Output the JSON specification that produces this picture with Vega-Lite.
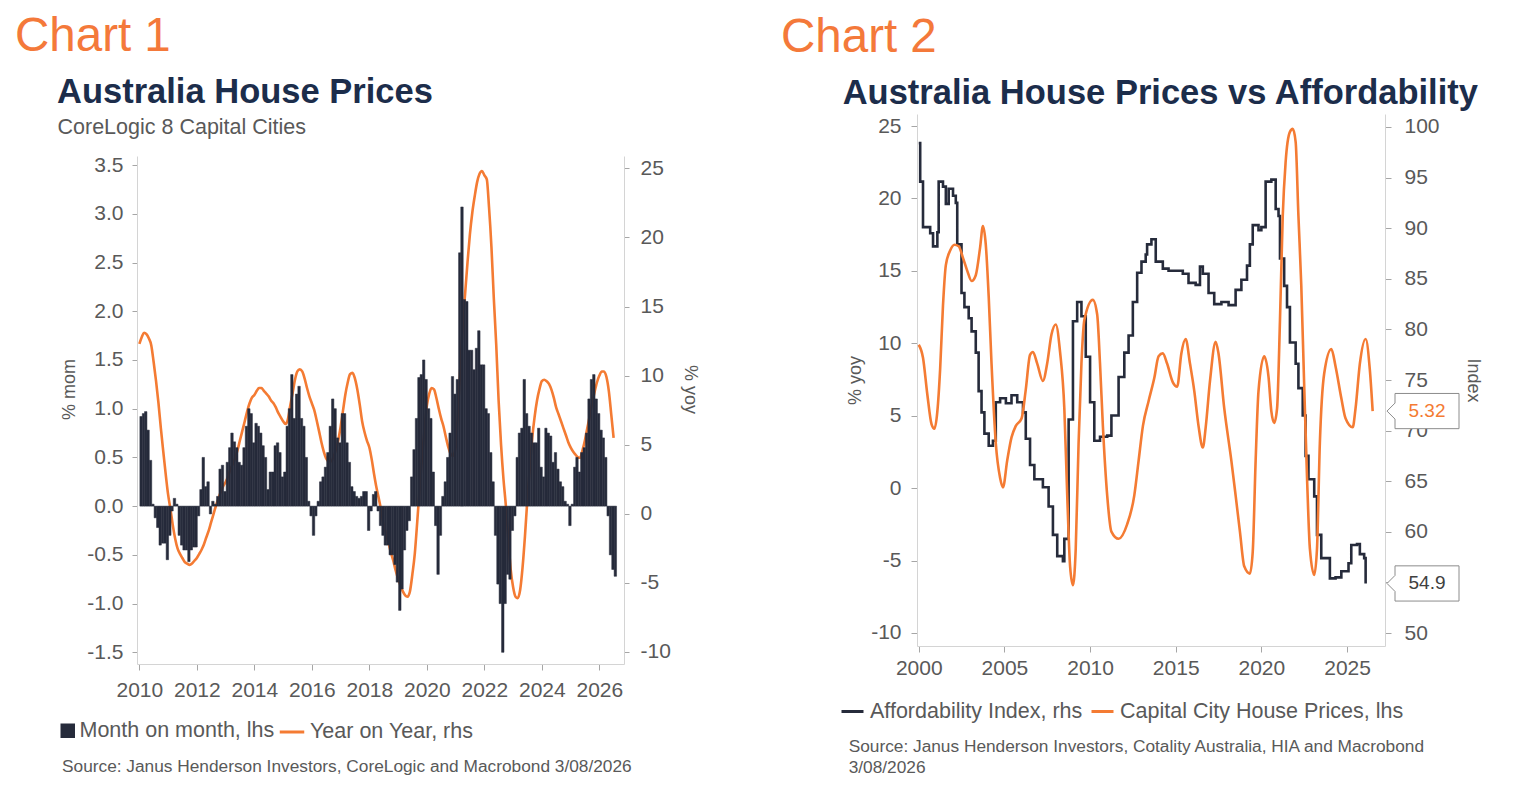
{
  "$schema": "https://vega.github.io/schema/vega-lite/v6.json",
  "padding": {"left": 15, "top": 13, "right": 5, "bottom": 5},
  "background": "white",
  "config": {
    "font": "Liberation Sans",
    "view": {"stroke": null},
    "axis": {"grid": false, "domainColor": "#D4D4D4", "tickColor": "#A6A6A6", "labelColor": "#595959", "titleColor": "#595959", "labelFontSize": 21, "titleFontSize": 18, "titleFontWeight": "normal", "labelExpr": "replace(datum.label, '\u2212', '-')"},
    "legend": {"labelFontSize": 21.5, "labelColor": "#595959", "padding": 0, "labelLimit": 500}
  },
  "datasets": {
    "hp": [
      {"d":"2010-01","m":0.92,"y":12.3},{"d":"2010-02","m":0.95,"y":12.8},{"d":"2010-03","m":0.97,"y":13.1},{"d":"2010-04","m":0.78,"y":13.0},{"d":"2010-05","m":0.47,"y":12.7},{"d":"2010-06","m":0.02,"y":12.2},{"d":"2010-07","m":-0.12,"y":11.0},{"d":"2010-08","m":-0.22,"y":9.6},{"d":"2010-09","m":-0.40,"y":8.0},{"d":"2010-10","m":-0.38,"y":6.2},{"d":"2010-11","m":-0.38,"y":4.5},{"d":"2010-12","m":-0.55,"y":2.9},
      {"d":"2011-01","m":-0.30,"y":1.4},{"d":"2011-02","m":-0.05,"y":0.3},{"d":"2011-03","m":0.08,"y":-0.8},{"d":"2011-04","m":0.02,"y":-1.8},{"d":"2011-05","m":-0.30,"y":-2.5},{"d":"2011-06","m":-0.40,"y":-2.9},{"d":"2011-07","m":-0.45,"y":-3.2},{"d":"2011-08","m":-0.45,"y":-3.5},{"d":"2011-09","m":-0.57,"y":-3.6},{"d":"2011-10","m":-0.45,"y":-3.7},{"d":"2011-11","m":-0.42,"y":-3.6},{"d":"2011-12","m":-0.42,"y":-3.4},
      {"d":"2012-01","m":-0.10,"y":-3.2},{"d":"2012-02","m":0.17,"y":-2.9},{"d":"2012-03","m":0.50,"y":-2.6},{"d":"2012-04","m":0.20,"y":-2.2},{"d":"2012-05","m":0.25,"y":-1.7},{"d":"2012-06","m":-0.08,"y":-1.2},{"d":"2012-07","m":0.05,"y":-0.6},{"d":"2012-08","m":0.02,"y":0.0},{"d":"2012-09","m":0.10,"y":0.6},{"d":"2012-10","m":0.38,"y":1.1},{"d":"2012-11","m":0.42,"y":1.6},{"d":"2012-12","m":0.15,"y":2.0},
      {"d":"2013-01","m":0.45,"y":2.3},{"d":"2013-02","m":0.60,"y":2.7},{"d":"2013-03","m":0.75,"y":3.2},{"d":"2013-04","m":0.66,"y":3.6},{"d":"2013-05","m":0.60,"y":4.0},{"d":"2013-06","m":0.45,"y":4.6},{"d":"2013-07","m":0.42,"y":5.3},{"d":"2013-08","m":0.60,"y":6.0},{"d":"2013-09","m":0.82,"y":6.7},{"d":"2013-10","m":1.00,"y":7.4},{"d":"2013-11","m":0.95,"y":8.0},{"d":"2013-12","m":0.65,"y":8.4},
      {"d":"2014-01","m":0.85,"y":8.6},{"d":"2014-02","m":0.82,"y":8.9},{"d":"2014-03","m":0.75,"y":9.1},{"d":"2014-04","m":0.62,"y":9.1},{"d":"2014-05","m":0.50,"y":8.9},{"d":"2014-06","m":0.17,"y":8.7},{"d":"2014-07","m":0.35,"y":8.5},{"d":"2014-08","m":0.35,"y":8.2},{"d":"2014-09","m":0.62,"y":8.0},{"d":"2014-10","m":0.65,"y":7.7},{"d":"2014-11","m":0.55,"y":7.3},{"d":"2014-12","m":0.30,"y":7.0},
      {"d":"2015-01","m":0.35,"y":6.7},{"d":"2015-02","m":0.82,"y":6.5},{"d":"2015-03","m":1.00,"y":6.8},{"d":"2015-04","m":1.35,"y":7.8},{"d":"2015-05","m":0.90,"y":8.7},{"d":"2015-06","m":1.15,"y":9.7},{"d":"2015-07","m":1.23,"y":10.3},{"d":"2015-08","m":0.90,"y":10.45},{"d":"2015-09","m":0.82,"y":10.3},{"d":"2015-10","m":0.50,"y":9.8},{"d":"2015-11","m":0.05,"y":9.1},{"d":"2015-12","m":-0.10,"y":8.5},
      {"d":"2016-01","m":-0.30,"y":8.0},{"d":"2016-02","m":-0.10,"y":7.5},{"d":"2016-03","m":0.05,"y":6.8},{"d":"2016-04","m":0.25,"y":6.0},{"d":"2016-05","m":0.30,"y":5.2},{"d":"2016-06","m":0.40,"y":4.5},{"d":"2016-07","m":0.55,"y":4.0},{"d":"2016-08","m":0.82,"y":3.8},{"d":"2016-09","m":1.10,"y":3.8},{"d":"2016-10","m":1.00,"y":4.1},{"d":"2016-11","m":0.70,"y":4.6},{"d":"2016-12","m":0.65,"y":5.3},
      {"d":"2017-01","m":0.95,"y":6.3},{"d":"2017-02","m":0.95,"y":7.5},{"d":"2017-03","m":0.65,"y":8.6},{"d":"2017-04","m":0.45,"y":9.5},{"d":"2017-05","m":0.20,"y":10.1},{"d":"2017-06","m":0.15,"y":10.2},{"d":"2017-07","m":0.10,"y":9.8},{"d":"2017-08","m":0.08,"y":9.0},{"d":"2017-09","m":0.10,"y":7.9},{"d":"2017-10","m":0.15,"y":6.7},{"d":"2017-11","m":0.15,"y":5.9},{"d":"2017-12","m":-0.25,"y":5.3},
      {"d":"2018-01","m":-0.05,"y":4.8},{"d":"2018-02","m":0.12,"y":3.9},{"d":"2018-03","m":0.15,"y":2.9},{"d":"2018-04","m":-0.05,"y":1.9},{"d":"2018-05","m":-0.20,"y":1.1},{"d":"2018-06","m":-0.30,"y":0.2},{"d":"2018-07","m":-0.40,"y":-0.8},{"d":"2018-08","m":-0.40,"y":-1.4},{"d":"2018-09","m":-0.50,"y":-2.1},{"d":"2018-10","m":-0.50,"y":-2.8},{"d":"2018-11","m":-0.60,"y":-3.4},{"d":"2018-12","m":-0.78,"y":-4.1},
      {"d":"2019-01","m":-1.07,"y":-4.7},{"d":"2019-02","m":-0.85,"y":-5.2},{"d":"2019-03","m":-0.45,"y":-5.6},{"d":"2019-04","m":-0.25,"y":-5.9},{"d":"2019-05","m":-0.15,"y":-6.0},{"d":"2019-06","m":0.30,"y":-5.6},{"d":"2019-07","m":0.58,"y":-4.4},{"d":"2019-08","m":0.90,"y":-2.9},{"d":"2019-09","m":1.32,"y":-0.6},{"d":"2019-10","m":1.35,"y":1.8},{"d":"2019-11","m":1.50,"y":4.1},{"d":"2019-12","m":1.30,"y":6.0},
      {"d":"2020-01","m":1.00,"y":7.8},{"d":"2020-02","m":0.90,"y":8.7},{"d":"2020-03","m":0.35,"y":9.1},{"d":"2020-04","m":-0.20,"y":9.0},{"d":"2020-05","m":-0.70,"y":8.4},{"d":"2020-06","m":-0.30,"y":7.6},{"d":"2020-07","m":0.10,"y":6.9},{"d":"2020-08","m":0.25,"y":6.3},{"d":"2020-09","m":0.50,"y":5.5},{"d":"2020-10","m":0.75,"y":4.8},{"d":"2020-11","m":1.33,"y":4.3},{"d":"2020-12","m":1.15,"y":4.2},
      {"d":"2021-01","m":1.30,"y":4.8},{"d":"2021-02","m":2.60,"y":7.5},{"d":"2021-03","m":3.07,"y":10.5},{"d":"2021-04","m":2.12,"y":13.6},{"d":"2021-05","m":2.10,"y":15.9},{"d":"2021-06","m":1.60,"y":18.2},{"d":"2021-07","m":1.60,"y":20.2},{"d":"2021-08","m":1.40,"y":21.8},{"d":"2021-09","m":1.62,"y":23.0},{"d":"2021-10","m":1.80,"y":24.0},{"d":"2021-11","m":1.45,"y":24.6},{"d":"2021-12","m":1.45,"y":24.8},
      {"d":"2022-01","m":1.00,"y":24.5},{"d":"2022-02","m":0.95,"y":24.2},{"d":"2022-03","m":0.55,"y":22.2},{"d":"2022-04","m":0.25,"y":19.3},{"d":"2022-05","m":-0.30,"y":15.6},{"d":"2022-06","m":-0.80,"y":12.2},{"d":"2022-07","m":-1.00,"y":8.2},{"d":"2022-08","m":-1.50,"y":5.0},{"d":"2022-09","m":-1.00,"y":2.5},{"d":"2022-10","m":-0.70,"y":0.6},{"d":"2022-11","m":-0.75,"y":-1.8},{"d":"2022-12","m":-0.25,"y":-4.0},
      {"d":"2023-01","m":-0.10,"y":-5.3},{"d":"2023-02","m":0.50,"y":-6.0},{"d":"2023-03","m":0.75,"y":-6.1},{"d":"2023-04","m":0.80,"y":-5.5},{"d":"2023-05","m":1.30,"y":-3.9},{"d":"2023-06","m":0.95,"y":-1.6},{"d":"2023-07","m":0.82,"y":1.0},{"d":"2023-08","m":0.75,"y":3.3},{"d":"2023-09","m":0.65,"y":5.5},{"d":"2023-10","m":0.65,"y":7.0},{"d":"2023-11","m":0.80,"y":8.2},{"d":"2023-12","m":0.40,"y":9.0},
      {"d":"2024-01","m":0.30,"y":9.6},{"d":"2024-02","m":0.80,"y":9.7},{"d":"2024-03","m":0.75,"y":9.6},{"d":"2024-04","m":0.72,"y":9.4},{"d":"2024-05","m":0.45,"y":9.0},{"d":"2024-06","m":0.55,"y":8.4},{"d":"2024-07","m":0.38,"y":7.7},{"d":"2024-08","m":0.25,"y":7.2},{"d":"2024-09","m":0.20,"y":6.7},{"d":"2024-10","m":0.05,"y":6.2},{"d":"2024-11","m":0.02,"y":5.7},{"d":"2024-12","m":-0.20,"y":5.2},
      {"d":"2025-01","m":0.02,"y":4.8},{"d":"2025-02","m":0.40,"y":4.5},{"d":"2025-03","m":0.50,"y":4.3},{"d":"2025-04","m":0.35,"y":4.1},{"d":"2025-05","m":0.55,"y":4.05},{"d":"2025-06","m":0.60,"y":4.6},{"d":"2025-07","m":0.75,"y":5.3},{"d":"2025-08","m":1.10,"y":6.2},{"d":"2025-09","m":1.30,"y":7.1},{"d":"2025-10","m":1.35,"y":8.0},{"d":"2025-11","m":1.10,"y":8.8},{"d":"2025-12","m":0.95,"y":9.5},
      {"d":"2026-01","m":0.78,"y":10.0},{"d":"2026-02","m":0.70,"y":10.3},{"d":"2026-03","m":0.50,"y":10.3},{"d":"2026-04","m":-0.10,"y":9.9},{"d":"2026-05","m":-0.50,"y":8.9},{"d":"2026-06","m":-0.65,"y":7.2},{"d":"2026-07","m":-0.72,"y":5.5}
    ],
    "cap": [
      {"d":"2000-01","v":9.9},{"d":"2000-04","v":9.0},{"d":"2000-07","v":6.5},{"d":"2000-10","v":4.4},{"d":"2000-12","v":4.1},{"d":"2001-02","v":5.3},{"d":"2001-04","v":8.2},{"d":"2001-06","v":12.6},{"d":"2001-08","v":15.4},{"d":"2001-11","v":16.4},
      {"d":"2002-02","v":16.8},{"d":"2002-05","v":16.7},{"d":"2002-08","v":15.9},{"d":"2002-11","v":15.0},{"d":"2003-02","v":14.3},{"d":"2003-05","v":14.7},{"d":"2003-08","v":16.6},{"d":"2003-10","v":18.1},{"d":"2003-12","v":16.8},
      {"d":"2004-02","v":13.2},{"d":"2004-04","v":8.6},{"d":"2004-07","v":3.1},{"d":"2004-10","v":0.7},{"d":"2004-12","v":0.05},{"d":"2005-03","v":1.9},{"d":"2005-06","v":3.5},{"d":"2005-09","v":4.3},
      {"d":"2006-01","v":4.8},{"d":"2006-04","v":6.8},{"d":"2006-07","v":9.2},{"d":"2006-09","v":9.4},{"d":"2006-12","v":8.6},{"d":"2007-04","v":7.4},{"d":"2007-07","v":8.6},{"d":"2007-10","v":10.6},
      {"d":"2008-01","v":11.3},{"d":"2008-04","v":9.4},{"d":"2008-07","v":5.5},{"d":"2008-09","v":-0.5},{"d":"2008-11","v":-5.4},{"d":"2009-01","v":-6.7},{"d":"2009-03","v":-4.2},{"d":"2009-05","v":3.1},{"d":"2009-07","v":8.6},{"d":"2009-09","v":11.6},
      {"d":"2010-03","v":13.0},{"d":"2010-06","v":12.0},{"d":"2010-08","v":8.6},{"d":"2010-10","v":4.3},{"d":"2011-01","v":-0.5},{"d":"2011-04","v":-3.0},{"d":"2011-09","v":-3.5},
      {"d":"2012-03","v":-2.5},{"d":"2012-08","v":-0.5},{"d":"2012-11","v":1.9},{"d":"2013-02","v":4.3},{"d":"2013-06","v":6.0},{"d":"2013-10","v":7.6},
      {"d":"2014-01","v":9.1},{"d":"2014-04","v":9.3},{"d":"2014-07","v":8.6},{"d":"2014-11","v":7.3},{"d":"2015-02","v":7.0},{"d":"2015-05","v":9.3},{"d":"2015-08","v":10.3},{"d":"2015-11","v":8.6},
      {"d":"2016-02","v":6.7},{"d":"2016-05","v":4.3},{"d":"2016-08","v":2.8},{"d":"2016-10","v":4.2},{"d":"2017-01","v":7.4},{"d":"2017-05","v":10.1},{"d":"2017-07","v":9.3},{"d":"2017-11","v":5.5},
      {"d":"2018-04","v":1.9},{"d":"2018-07","v":-0.5},{"d":"2018-10","v":-3.0},{"d":"2019-01","v":-5.4},{"d":"2019-05","v":-5.9},{"d":"2019-07","v":-4.4},{"d":"2019-09","v":1.9},{"d":"2019-11","v":6.7},
      {"d":"2020-03","v":9.1},{"d":"2020-06","v":7.7},{"d":"2020-08","v":5.3},{"d":"2020-10","v":4.5},{"d":"2020-12","v":5.5},
      {"d":"2021-02","v":11.6},{"d":"2021-04","v":18.8},{"d":"2021-06","v":22.5},{"d":"2021-09","v":24.6},{"d":"2021-11","v":24.8},
      {"d":"2022-01","v":23.9},{"d":"2022-03","v":18.8},{"d":"2022-05","v":14.0},{"d":"2022-07","v":7.2},{"d":"2022-09","v":0.7},{"d":"2022-11","v":-4.2},
      {"d":"2023-02","v":-6.0},{"d":"2023-04","v":-4.2},{"d":"2023-06","v":3.1},{"d":"2023-09","v":7.9},
      {"d":"2024-02","v":9.6},{"d":"2024-05","v":8.4},{"d":"2024-09","v":6.2},{"d":"2024-12","v":4.8},
      {"d":"2025-05","v":4.2},{"d":"2025-07","v":5.5},{"d":"2025-10","v":8.6},{"d":"2026-02","v":10.3},{"d":"2026-05","v":8.2},{"d":"2026-07","v":5.32}
    ],
    "afford": [
      {"d":"2000-01","v":98.4},{"d":"2000-02","v":94.6},{"d":"2000-04","v":90.1},{"d":"2000-09","v":89.5},{"d":"2000-11","v":88.2},{"d":"2001-02","v":89.6},{"d":"2001-03","v":94.6},{"d":"2001-06","v":94.1},{"d":"2001-08","v":92.4},{"d":"2001-10","v":93.9},
      {"d":"2002-01","v":93.2},{"d":"2002-03","v":92.5},{"d":"2002-04","v":88.4},{"d":"2002-07","v":83.6},{"d":"2002-09","v":82.2},{"d":"2002-12","v":81.1},{"d":"2003-02","v":79.8},{"d":"2003-05","v":77.7},{"d":"2003-07","v":73.9},{"d":"2003-09","v":71.8},{"d":"2003-11","v":69.7},
      {"d":"2004-02","v":68.5},{"d":"2004-05","v":69.0},{"d":"2004-07","v":72.8},{"d":"2004-10","v":73.2},{"d":"2005-02","v":72.7},{"d":"2005-06","v":73.5},{"d":"2005-10","v":72.8},{"d":"2006-02","v":71.8},{"d":"2006-04","v":69.2},{"d":"2006-07","v":66.6},{"d":"2006-10","v":65.2},
      {"d":"2007-04","v":64.4},{"d":"2007-08","v":62.5},{"d":"2007-11","v":59.7},{"d":"2008-02","v":57.6},{"d":"2008-06","v":57.1},{"d":"2008-07","v":59.3},{"d":"2008-10","v":71.1},{"d":"2009-01","v":80.8},{"d":"2009-04","v":82.7},{"d":"2009-07","v":81.3},{"d":"2009-10","v":77.3},
      {"d":"2010-01","v":72.8},{"d":"2010-04","v":69.0},{"d":"2010-08","v":69.4},{"d":"2011-01","v":69.5},{"d":"2011-04","v":71.5},{"d":"2011-09","v":75.3},{"d":"2012-01","v":77.7},{"d":"2012-04","v":79.4},{"d":"2012-07","v":82.7},{"d":"2012-10","v":85.6},
      {"d":"2013-01","v":86.7},{"d":"2013-04","v":87.4},{"d":"2013-05","v":88.4},{"d":"2013-08","v":88.9},{"d":"2013-11","v":86.7},{"d":"2014-04","v":86.0},{"d":"2014-08","v":85.8},{"d":"2015-06","v":85.5},{"d":"2015-10","v":84.6},
      {"d":"2016-03","v":84.4},{"d":"2016-06","v":86.2},{"d":"2016-08","v":85.5},{"d":"2016-12","v":83.6},{"d":"2017-04","v":82.5},{"d":"2017-09","v":82.7},{"d":"2018-02","v":82.4},{"d":"2018-07","v":83.9},{"d":"2018-11","v":84.9},
      {"d":"2019-03","v":86.3},{"d":"2019-05","v":88.4},{"d":"2019-07","v":90.3},{"d":"2019-11","v":89.8},{"d":"2020-01","v":90.1},{"d":"2020-04","v":94.6},{"d":"2020-08","v":94.8},{"d":"2020-11","v":91.9},
      {"d":"2021-01","v":91.2},{"d":"2021-02","v":87.0},{"d":"2021-05","v":84.3},{"d":"2021-07","v":82.2},{"d":"2021-09","v":78.7},{"d":"2022-01","v":76.6},{"d":"2022-03","v":74.2},{"d":"2022-06","v":71.5},{"d":"2022-08","v":67.5},{"d":"2022-10","v":65.2},
      {"d":"2023-02","v":63.5},{"d":"2023-04","v":59.7},{"d":"2023-07","v":57.4},{"d":"2024-01","v":55.4},{"d":"2024-05","v":55.5},{"d":"2024-09","v":56.1},{"d":"2025-02","v":56.9},{"d":"2025-04","v":58.7},{"d":"2025-08","v":58.8},{"d":"2025-10","v":57.8},{"d":"2026-01","v":57.4},{"d":"2026-02","v":54.9}
    ]
  },
  "spacing": 82,
  "resolve": {"scale": {"fill": "independent", "stroke": "independent"}, "legend": {"fill": "independent", "stroke": "independent"}},
  "hconcat": [
    {
      "title": {"text": "Chart 1", "anchor": "start", "fontSize": 47.5, "fontWeight": "normal", "color": "#F4793A", "dx": -42, "offset": 14},
      "vconcat": [
        {
          "title": {"text": "Source: Janus Henderson Investors, CoreLogic and Macrobond  3/08/2026", "orient": "bottom", "anchor": "start", "fontSize": 17.3, "fontWeight": "normal", "color": "#595959", "dx": 5, "offset": 58},
          "vconcat": [
            {
              "width": 487,
              "height": 550,
              "title": {"text": "Australia House Prices", "anchor": "start", "fontSize": 34.5, "fontWeight": "bold", "color": "#1C2D4B", "offset": 4},
              "data": {"name": "hp"},
              "layer": [
                {
                  "mark": {"type": "line", "strokeWidth": 2.6, "interpolate": "monotone"},
                  "encoding": {
                    "x": {"field": "d", "type": "temporal", "scale": {"type": "utc"},
                      "axis": {"orient": "top", "domain": false, "ticks": false, "labels": false, "tickSize": 0, "title": "CoreLogic 8 Capital Cities", "titleX": -80, "titleY": 19, "titleAlign": "left", "titleAnchor": "start", "titleBaseline": "alphabetic", "titleFontSize": 21.5, "titleColor": "#595959", "titleFontWeight": "normal"}},
                    "y": {"field": "y", "type": "quantitative", "scale": {"domain": [-10.87, 28.93], "nice": false},
                      "axis": {"orient": "right", "values": [-10, -5, 0, 5, 10, 15, 20, 25], "title": "% yoy", "tickSize": 5, "labelPadding": 11, "titlePadding": 10, "domainDash": [508, 300]}},
                    "stroke": {"datum": "Year on Year, rhs", "type": "nominal", "scale": {"range": ["#F47B33"]},
                      "legend": {"orient": "none", "legendX": 141, "legendY": 604, "title": null, "symbolType": "stroke", "symbolSize": 600, "symbolStrokeWidth": 3, "labelOffset": 4, "padding": 0}}
                  }
                },
                {
                  "mark": {"type": "bar", "binSpacing": 0, "stroke": "#262B3B", "strokeWidth": 0.5},
                  "encoding": {
                    "x": {"field": "d", "timeUnit": "utcyearmonth", "type": "temporal",
                      "scale": {"type": "utc", "domain": [{"year": 2009, "month": 12, "date": 2, "utc": true}, {"year": 2026, "month": 11, "date": 10, "utc": true}]},
                      "axis": {"format": "%Y", "tickCount": {"interval": "year", "step": 2}, "title": null, "tickSize": 6, "labelPadding": 9}},
                    "y": {"field": "m", "type": "quantitative", "scale": {"domain": [-1.62, 4.024], "nice": false},
                      "axis": {"orient": "left", "values": [-1.5, -1, -0.5, 0, 0.5, 1, 1.5, 2, 2.5, 3, 3.5], "format": ".1f", "title": "% mom", "tickSize": 5, "labelPadding": 9, "titlePadding": 8, "domainDash": [508, 300]}},
                    "fill": {"datum": "Month on month, lhs", "type": "nominal", "scale": {"range": ["#262B3B"]},
                      "legend": {"orient": "none", "legendX": -80, "legendY": 606, "title": null, "symbolType": "square", "symbolSize": 169, "labelOffset": 1, "padding": 0}}
                  }
                }
              ],
              "resolve": {"scale": {"y": "independent"}, "axis": {"x": "independent"}}
            }
          ]
        }
      ]
    },
    {
      "title": {"text": "Chart 2", "anchor": "start", "fontSize": 47.5, "fontWeight": "normal", "color": "#F4793A", "dx": -59, "offset": 14},
      "vconcat": [
        {
          "title": {"text": ["Source: Janus Henderson Investors, Cotality Australia, HIA and Macrobond", "3/08/2026"], "orient": "bottom", "anchor": "start", "fontSize": 17.3, "lineHeight": 21, "fontWeight": "normal", "color": "#595959", "dx": 6, "offset": 60},
          "vconcat": [
            {
              "width": 468,
              "height": 532,
              "title": {"text": "Australia House Prices vs Affordability", "anchor": "start", "dx": -4, "fontSize": 34.5, "fontWeight": "bold", "color": "#1C2D4B", "offset": 3},
              "layer": [
                {
                  "data": {"name": "afford"},
                  "encoding": {
                    "y": {"field": "v", "type": "quantitative", "scale": {"domain": [48.72, 101.28], "nice": false},
                      "axis": {"orient": "right", "values": [50, 55, 60, 65, 70, 75, 80, 85, 90, 95, 100], "title": "Index", "tickSize": 6, "labelPadding": 13, "titlePadding": 24}}
                  },
                  "layer": [
                    {
                      "mark": {"type": "line", "interpolate": "step-after", "strokeWidth": 2.6},
                      "encoding": {
                        "x": {"field": "d", "type": "temporal",
                          "scale": {"type": "utc", "domain": [{"year": 1999, "month": 11, "date": 25, "utc": true}, {"year": 2027, "month": 3, "date": 21, "utc": true}]},
                          "axis": {"format": "%Y", "tickCount": {"interval": "year", "step": 5}, "title": null, "tickSize": 6, "labelPadding": 5}},
                        "stroke": {"datum": "Affordability Index, rhs", "type": "nominal",
                          "scale": {"domain": ["Affordability Index, rhs", "Capital City House Prices, lhs"], "range": ["#262B3B", "#F47B33"]},
                          "legend": {"orient": "none", "legendX": -77, "legendY": 585, "direction": "horizontal", "title": null, "symbolType": "stroke", "symbolSize": 484, "symbolStrokeWidth": 3, "labelOffset": 5, "columnPadding": 2, "padding": 0}}
                      }
                    },
                    {
                      "transform": [{"window": [{"op": "row_number", "as": "r"}], "sort": [{"field": "d", "order": "descending"}]}, {"filter": "datum.r == 1"}],
                      "mark": {"type": "point", "shape": "M0.05,0L0.25,-0.2L0.25,-0.44L1.85,-0.44L1.85,0.44L0.25,0.44L0.25,0.2Z", "size": 6400, "filled": true, "fill": "white", "stroke": "#8C8C8C", "strokeWidth": 1, "opacity": 1},
                      "encoding": {"x": {"value": "width"}}
                    },
                    {
                      "transform": [{"window": [{"op": "row_number", "as": "r"}], "sort": [{"field": "d", "order": "descending"}]}, {"filter": "datum.r == 1"}],
                      "mark": {"type": "text", "dx": 42, "align": "center", "baseline": "middle", "fontSize": 19, "color": "#404040"},
                      "encoding": {"x": {"value": "width"}, "text": {"field": "v", "type": "quantitative", "format": ".1f"}}
                    }
                  ]
                },
                {
                  "data": {"name": "cap"},
                  "encoding": {
                    "y": {"field": "v", "type": "quantitative", "scale": {"domain": [-10.9, 25.83], "nice": false},
                      "axis": {"orient": "left", "values": [-10, -5, 0, 5, 10, 15, 20, 25], "title": "% yoy", "tickSize": 6, "labelPadding": 10, "titlePadding": 6}}
                  },
                  "layer": [
                    {
                      "mark": {"type": "line", "interpolate": "monotone", "strokeWidth": 2.6},
                      "encoding": {
                        "x": {"field": "d", "type": "temporal", "scale": {"type": "utc"}},
                        "stroke": {"datum": "Capital City House Prices, lhs", "type": "nominal"}
                      }
                    },
                    {
                      "transform": [{"window": [{"op": "row_number", "as": "r"}], "sort": [{"field": "d", "order": "descending"}]}, {"filter": "datum.r == 1"}],
                      "mark": {"type": "point", "shape": "M0.05,0L0.25,-0.2L0.25,-0.44L1.85,-0.44L1.85,0.44L0.25,0.44L0.25,0.2Z", "size": 6400, "filled": true, "fill": "white", "stroke": "#8C8C8C", "strokeWidth": 1, "opacity": 1},
                      "encoding": {"x": {"value": "width"}}
                    },
                    {
                      "transform": [{"window": [{"op": "row_number", "as": "r"}], "sort": [{"field": "d", "order": "descending"}]}, {"filter": "datum.r == 1"}],
                      "mark": {"type": "text", "dx": 42, "align": "center", "baseline": "middle", "fontSize": 19, "color": "#F47B33"},
                      "encoding": {"x": {"value": "width"}, "text": {"field": "v", "type": "quantitative", "format": ".2f"}}
                    }
                  ]
                }
              ],
              "resolve": {"scale": {"y": "independent"}}
            }
          ]
        }
      ]
    }
  ]
}
